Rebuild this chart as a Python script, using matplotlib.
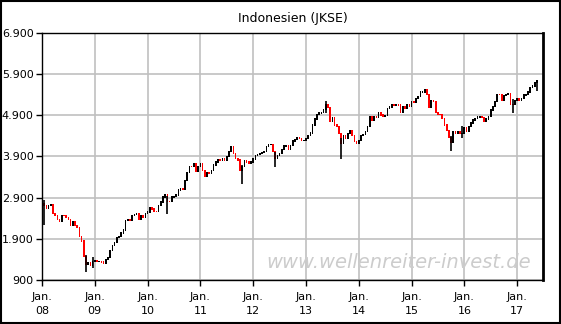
import matplotlib.pyplot as plt
import numpy as np

# halbmonatliche Schlusskurse JKSE (Monatsmitte, Monatsende), Jan 2008 - Mai 2017
start = 2750
closes = [
    # 2008
    2700, 2627, 2700, 2721, 2500, 2447, 2350, 2304, 2450, 2444, 2400, 2349,
    2200, 2304, 2200, 2166, 1950, 1832, 1450, 1257, 1300, 1241, 1330, 1355,
    # 2009
    1330, 1333, 1320, 1285, 1380, 1434, 1600, 1723, 1800, 1917, 1950, 2027,
    2100, 2323, 2350, 2342, 2450, 2468, 2500, 2368, 2450, 2416, 2500, 2534,
    # 2010
    2650, 2611, 2550, 2549, 2700, 2777, 2900, 2971, 2800, 2797, 2900, 2914,
    2950, 3069, 3100, 3082, 3300, 3501, 3650, 3635, 3700, 3531, 3650, 3704,
    # 2011
    3550, 3409, 3500, 3470, 3550, 3679, 3750, 3819, 3800, 3837, 3800, 3889,
    4000, 4131, 3950, 3842, 3800, 3549, 3650, 3791, 3750, 3715, 3750, 3822,
    # 2012
    3900, 3942, 3950, 3985, 4000, 4122, 4180, 4181, 4000, 3833, 3900, 3956,
    4050, 4142, 4150, 4061, 4150, 4263, 4300, 4350, 4330, 4276, 4280, 4317,
    # 2013
    4400, 4454, 4650, 4796, 4900, 4941, 4950, 5034, 5150, 5069, 4750, 4819,
    4650, 4610, 4450, 4195, 4400, 4316, 4450, 4511, 4400, 4256, 4200, 4274,
    # 2014
    4400, 4419, 4500, 4620, 4850, 4768, 4850, 4840, 4950, 4894, 4850, 4879,
    5050, 5089, 5150, 5137, 5150, 5138, 4950, 5090, 5050, 5150, 5100, 5227,
    # 2015
    5200, 5289, 5350, 5450, 5450, 5519, 5400, 5086, 5250, 5216, 4950, 4911,
    4900, 4803, 4650, 4510, 4350, 4224, 4500, 4455, 4500, 4446, 4450, 4593,
    # 2016
    4500, 4615, 4700, 4771, 4800, 4845, 4850, 4839, 4750, 4797, 4850, 5017,
    5100, 5216, 5400, 5386, 5250, 5365, 5400, 5423, 5150, 5149, 5250, 5297,
    # 2017
    5250, 5294, 5380, 5387, 5450, 5568, 5600, 5685, 5720,
]

# auffaellige Tagesspitzen (Index des Balkens, Tief, Hoch)
spike_idx = [0, 19, 22, 56, 90, 105, 128, 135, 185, 190, 213, 224]
spike_low = [2240, 1090, 1200, 2500, 3220, 3650, 4950, 3840, 4030, 4350, 4960, 5500]
spike_high = [2850, 1500, 1450, 2950, 3700, 4000, 5250, 4350, 4400, 4650, 5300, 5750]

y_ticks = [900, 1900, 2900, 3900, 4900, 5900, 6900]
y_labels = ['900', '1.900', '2.900', '3.900', '4.900', '5.900', '6.900']
x_labels = ['Jan.\n08', 'Jan.\n09', 'Jan.\n10', 'Jan.\n11', 'Jan.\n12',
            'Jan.\n13', 'Jan.\n14', 'Jan.\n15', 'Jan.\n16', 'Jan.\n17']

closes = np.array(closes, dtype=float)
opens = np.concatenate([[start], closes[:-1]])
x = (np.arange(len(closes)) + 1) / 24.0   # Jahre seit Jan. 2008

fig = plt.figure(figsize=(5.61, 3.24), dpi=100)
fig.patch.set_facecolor('white')
ax = fig.add_axes([42 / 561, 1 - 280 / 324, 501 / 561, 247 / 324])

ax.grid(True, color='#c0c0c0', linewidth=1.2)
ax.set_axisbelow(True)

ax.vlines(x[spike_idx], spike_low, spike_high, color='black', linewidth=1.2)

up = closes >= opens
bottoms = np.minimum(opens, closes)
heights = np.abs(closes - opens) + 30
ax.bar(x[up], heights[up], bottom=bottoms[up], width=0.032, color='black', linewidth=0)
ax.bar(x[~up], heights[~up], bottom=bottoms[~up], width=0.032, color='#ff0000', linewidth=0)

ax.set_xlim(0, 9.49)
ax.set_ylim(900, 6900)
ax.set_yticks(y_ticks)
ax.set_yticklabels(y_labels)
ax.set_xticks(range(len(x_labels)))
ax.set_xticklabels(x_labels, linespacing=1.5)
ax.tick_params(labelsize=8, length=4, width=1, color='black', pad=2)
ax.tick_params(axis='x', pad=5)

for s in ax.spines.values():
    s.set_color('black')
    s.set_linewidth(1)
ax.spines['right'].set_linewidth(2)

ax.set_title('Indonesien (JKSE)', fontsize=9, pad=8)
ax.text(0.975, 0.07, 'www.wellenreiter-invest.de', transform=ax.transAxes,
        ha='right', va='center', fontsize=14, style='italic', color='#cccccc')

# Rahmen um die ganze Grafik
fig.add_artist(plt.Rectangle((0.001, 0.002), 0.997, 0.996, transform=fig.transFigure,
                             fill=False, edgecolor='black', linewidth=1.5))

fig.savefig('out.png', dpi=100)
